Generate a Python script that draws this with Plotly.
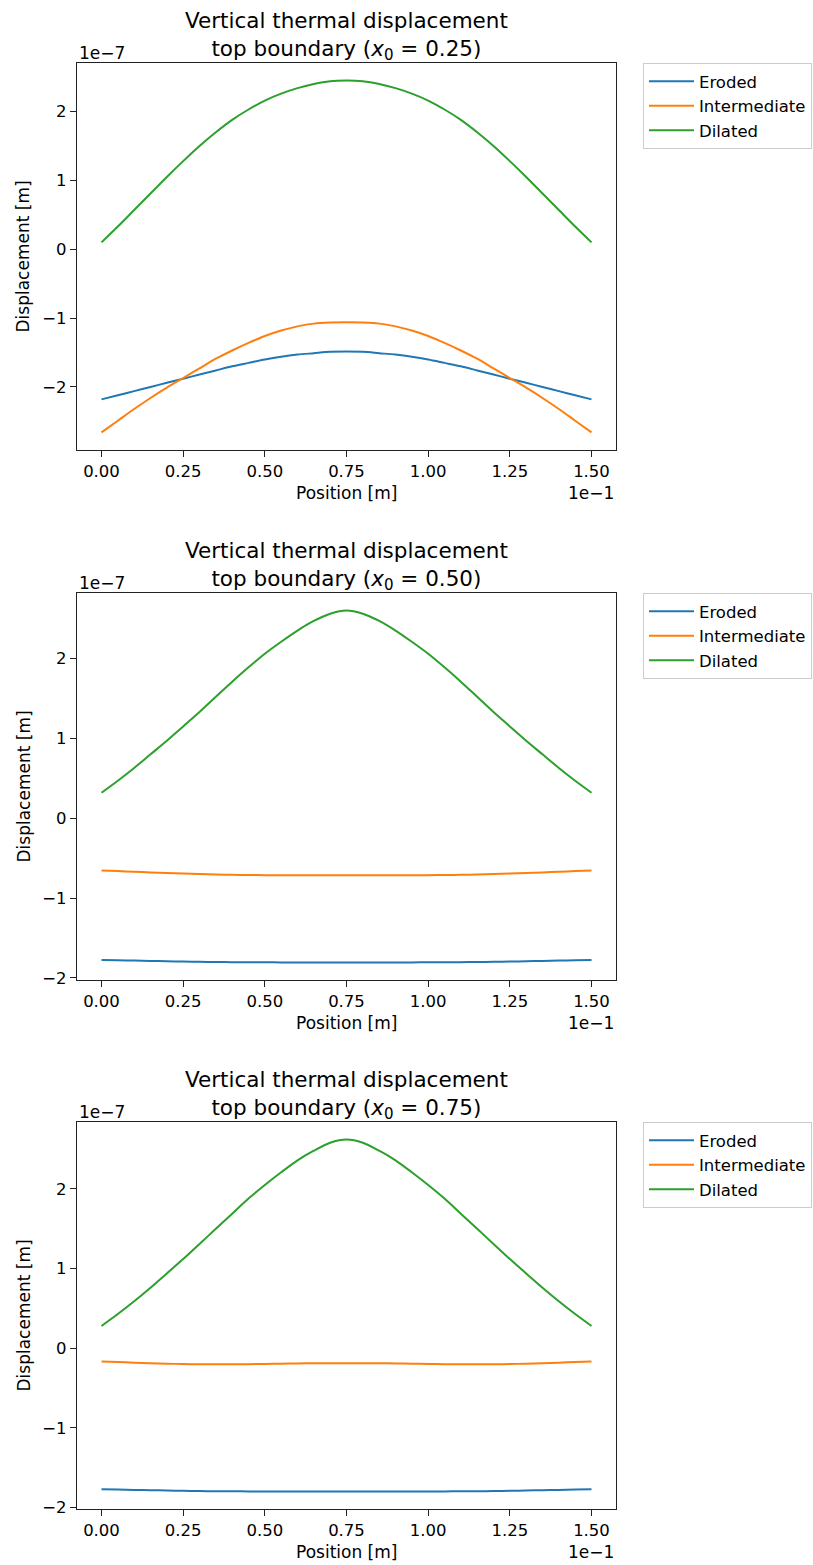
import plotly.graph_objects as go

# Positions along the top boundary [m]
position = [0.000, 0.005, 0.010, 0.015, 0.020, 0.025, 0.030, 0.035, 0.040, 0.045,
            0.050, 0.055, 0.060, 0.065, 0.070, 0.075, 0.080, 0.085, 0.090, 0.095,
            0.100, 0.105, 0.110, 0.115, 0.120, 0.125, 0.130, 0.135, 0.140, 0.145, 0.150]

# Vertical displacement, in units of 1e-7 m
eroded_025 = [-2.18, -2.12, -2.06, -2.00, -1.94, -1.88, -1.82, -1.76, -1.70, -1.65,
              -1.60, -1.56, -1.53, -1.51, -1.49, -1.485, -1.49, -1.51, -1.53, -1.56,
              -1.60, -1.65, -1.70, -1.76, -1.82, -1.88, -1.94, -2.00, -2.06, -2.12, -2.18]
intermediate_025 = [-2.66, -2.49, -2.32, -2.16, -2.01, -1.87, -1.73, -1.59, -1.47, -1.36,
                    -1.26, -1.18, -1.12, -1.08, -1.065, -1.06, -1.065, -1.08, -1.12, -1.18,
                    -1.26, -1.36, -1.47, -1.59, -1.73, -1.87, -2.01, -2.16, -2.32, -2.49, -2.66]
dilated_025 = [0.10, 0.33, 0.57, 0.81, 1.05, 1.28, 1.50, 1.70, 1.88, 2.03,
               2.16, 2.26, 2.34, 2.40, 2.44, 2.45, 2.44, 2.40, 2.34, 2.26,
               2.16, 2.03, 1.88, 1.70, 1.50, 1.28, 1.05, 0.81, 0.57, 0.33, 0.10]

eroded_050 = [-1.775, -1.778, -1.782, -1.786, -1.790, -1.794, -1.797, -1.800, -1.802, -1.803,
              -1.804, -1.805, -1.805, -1.805, -1.805, -1.805, -1.805, -1.805, -1.805, -1.805,
              -1.804, -1.803, -1.802, -1.800, -1.797, -1.794, -1.790, -1.786, -1.782, -1.778, -1.775]
intermediate_050 = [-0.655, -0.662, -0.670, -0.678, -0.686, -0.693, -0.699, -0.704, -0.708, -0.711,
                    -0.713, -0.714, -0.715, -0.715, -0.715, -0.715, -0.715, -0.715, -0.715, -0.714,
                    -0.713, -0.711, -0.708, -0.704, -0.699, -0.693, -0.686, -0.678, -0.670, -0.662, -0.655]
dilated_050 = [0.32, 0.47, 0.63, 0.80, 0.97, 1.15, 1.33, 1.52, 1.71, 1.89,
               2.06, 2.21, 2.35, 2.47, 2.56, 2.60, 2.56, 2.47, 2.35, 2.21,
               2.06, 1.89, 1.71, 1.52, 1.33, 1.15, 0.97, 0.80, 0.63, 0.47, 0.32]

eroded_075 = [-1.770, -1.773, -1.777, -1.781, -1.785, -1.789, -1.792, -1.794, -1.795, -1.796,
              -1.796, -1.796, -1.796, -1.796, -1.796, -1.796, -1.796, -1.796, -1.796, -1.796,
              -1.796, -1.796, -1.795, -1.794, -1.792, -1.789, -1.785, -1.781, -1.777, -1.773, -1.770]
intermediate_075 = [-0.165, -0.172, -0.180, -0.187, -0.193, -0.197, -0.200, -0.201, -0.201, -0.199,
                    -0.196, -0.193, -0.190, -0.188, -0.187, -0.187, -0.187, -0.188, -0.190, -0.193,
                    -0.196, -0.199, -0.201, -0.201, -0.200, -0.197, -0.193, -0.187, -0.180, -0.172, -0.165]
dilated_075 = [0.28, 0.43, 0.59, 0.76, 0.94, 1.12, 1.31, 1.50, 1.69, 1.88,
               2.05, 2.21, 2.36, 2.48, 2.58, 2.62, 2.58, 2.48, 2.36, 2.21,
               2.05, 1.88, 1.69, 1.50, 1.31, 1.12, 0.94, 0.76, 0.59, 0.43, 0.28]

x0_labels = ["0.25", "0.50", "0.75"]
series_names = ["Eroded", "Intermediate", "Dilated"]
series_colors = ["#1f77b4", "#ff7f0e", "#2ca02c"]
panels = [
    [eroded_025, intermediate_025, dilated_025],
    [eroded_050, intermediate_050, dilated_050],
    [eroded_075, intermediate_075, dilated_075],
]

x_tick_vals = [0.0, 0.025, 0.05, 0.075, 0.10, 0.125, 0.15]
x_tick_text = ["0.00", "0.25", "0.50", "0.75", "1.00", "1.25", "1.50"]
y_tick_vals = [-2e-7, -1e-7, 0.0, 1e-7, 2e-7]
y_tick_text = ["\u22122", "\u22121", "0", "1", "2"]

W, H = 813, 1565
ML, MR, MT, MB = 77, 197, 63, 56
PW, PH = W - ML - MR, H - MT - MB
panel_top = [63, 593, 1122]
panel_h = 387
FONT = "DejaVu Sans"
TICK_SIZE = 16.5
LABEL_SIZE = 17
LEGEND_SIZE = 16.5
TITLE_SIZE = 21.5


def px_x(px):
    return (px - ML) / PW


def px_y(py):
    return (H - MB - py) / PH


fig = go.Figure()
layout = dict(
    width=W, height=H,
    margin=dict(l=ML, r=MR, t=MT, b=MB),
    paper_bgcolor="white", plot_bgcolor="white",
    font=dict(family=FONT, size=TICK_SIZE, color="black"),
    showlegend=True,
)
annotations = []

for i, series in enumerate(panels):
    k = "" if i == 0 else str(i + 1)
    top = panel_top[i]
    bottom = top + panel_h
    legend_id = "legend" + k
    for name, color, vals in zip(series_names, series_colors, series):
        fig.add_trace(go.Scatter(
            x=position, y=[v * 1e-7 for v in vals], mode="lines", name=name,
            line=dict(color=color, width=2, shape="spline", smoothing=0.8),
            xaxis="x" + k, yaxis="y" + k, legend=legend_id,
        ))

    # matplotlib-style 5% data margins
    all_vals = [v * 1e-7 for s in series for v in s]
    lo, hi = min(all_vals), max(all_vals)
    pad = 0.05 * (hi - lo)
    xpad = 0.05 * (max(position) - min(position))

    axis_common = dict(
        showline=True, mirror=True, linecolor="#222", linewidth=1.2,
        ticks="outside", ticklen=6, tickwidth=1.2, tickcolor="#222",
        showgrid=False, zeroline=False,
        tickfont=dict(family=FONT, size=TICK_SIZE, color="black"),
    )
    layout["xaxis" + k] = dict(
        axis_common, domain=[0, 1], anchor="y" + k,
        range=[min(position) - xpad, max(position) + xpad],
        tickvals=x_tick_vals, ticktext=x_tick_text,
    )
    layout["yaxis" + k] = dict(
        axis_common, domain=[px_y(bottom), px_y(top)], anchor="x" + k,
        range=[lo - pad, hi + pad],
        tickvals=y_tick_vals, ticktext=y_tick_text,
    )
    layout[legend_id] = dict(
        xref="container", yref="container",
        x=643 / W, y=1 - top / H, xanchor="left", yanchor="top",
        bgcolor="white", bordercolor="#cccccc", borderwidth=1,
        font=dict(family=FONT, size=LEGEND_SIZE, color="black"),
        itemwidth=45, tracegroupgap=0,
    )

    annotations += [
        dict(text="Vertical thermal displacement<br>top boundary (<i>x</i><sub>0</sub> = "
                  + x0_labels[i] + ")",
             x=0.5, y=px_y(top - 27), xref="paper", yref="paper",
             xanchor="center", yanchor="middle", showarrow=False,
             font=dict(family=FONT, size=TITLE_SIZE, color="black")),
        dict(text="1e\u22127", x=0, y=px_y(top - 10), xref="paper", yref="paper",
             xanchor="left", yanchor="middle", showarrow=False,
             font=dict(family=FONT, size=LABEL_SIZE, color="black")),
        dict(text="1e\u22121", x=1, y=px_y(bottom + 43), xref="paper", yref="paper",
             xanchor="right", yanchor="middle", showarrow=False,
             font=dict(family=FONT, size=LABEL_SIZE, color="black")),
        dict(text="Position [m]", x=0.5, y=px_y(bottom + 43), xref="paper", yref="paper",
             xanchor="center", yanchor="middle", showarrow=False,
             font=dict(family=FONT, size=LABEL_SIZE, color="black")),
        dict(text="Displacement [m]", x=px_x(23), y=px_y(top + panel_h / 2),
             xref="paper", yref="paper", xanchor="center", yanchor="middle",
             textangle=-90, showarrow=False,
             font=dict(family=FONT, size=LABEL_SIZE, color="black")),
    ]

layout["annotations"] = annotations
fig.update_layout(**layout)
fig.write_html("out.html")
